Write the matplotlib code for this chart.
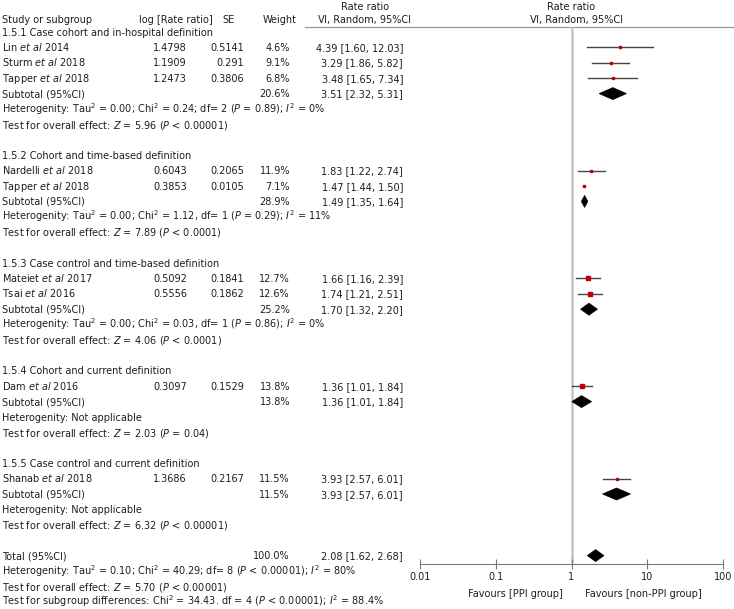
import numpy as np
import matplotlib
matplotlib.use("Agg")
import matplotlib.pyplot as plt
from matplotlib.patches import Polygon

# study level data
studies = [r"Lin $\mathit{et\ al}$ 2014", r"Sturm $\mathit{et\ al}$ 2018", r"Tapper $\mathit{et\ al}$ 2018",
           r"Nardelli $\mathit{et\ al}$ 2018", r"Tapper $\mathit{et\ al}$ 2018",
           r"Mateiet $\mathit{et\ al}$ 2017", r"Tsai $\mathit{et\ al}$ 2016",
           r"Dam $\mathit{et\ al}$ 2016", r"Shanab $\mathit{et\ al}$ 2018"]
group = [0, 0, 0, 1, 1, 2, 2, 3, 4]
log_rr = ["1.4798", "1.1909", "1.2473", "0.6043", "0.3853", "0.5092", "0.5556", "0.3097", "1.3686"]
se = ["0.5141", "0.291", "0.3806", "0.2065", "0.0105", "0.1841", "0.1862", "0.1529", "0.2167"]
weight = [4.6, 9.1, 6.8, 11.9, 7.1, 12.7, 12.6, 13.8, 11.5]
rr = [4.39, 3.29, 3.48, 1.83, 1.47, 1.66, 1.74, 1.36, 3.93]
lo = [1.60, 1.86, 1.65, 1.22, 1.44, 1.16, 1.21, 1.01, 2.57]
hi = [12.03, 5.82, 7.34, 2.74, 1.50, 2.39, 2.51, 1.84, 6.01]

# subgroup data
sub_names = ["1.5.1 Case cohort and in-hospital definition", "1.5.2 Cohort and time-based definition",
             "1.5.3 Case control and time-based definition", "1.5.4 Cohort and current definition",
             "1.5.5 Case control and current definition"]
sub_weight = [20.6, 28.9, 25.2, 13.8, 11.5]
sub_rr = [3.51, 1.49, 1.70, 1.36, 3.93]
sub_lo = [2.32, 1.35, 1.32, 1.01, 2.57]
sub_hi = [5.31, 1.64, 2.20, 1.84, 6.01]
sub_het = [r"Heterogenity: Tau$^2$ = 0.00; Chi$^2$ = 0.24; df= 2 ($\mathit{P}$ = 0.89); $\mathit{I}^2$ = 0%",
           r"Heterogenity: Tau$^2$ = 0.00; Chi$^2$ = 1.12, df= 1 ($\mathit{P}$ = 0.29); $\mathit{I}^2$ = 11%",
           r"Heterogenity: Tau$^2$ = 0.00; Chi$^2$ = 0.03, df= 1 ($\mathit{P}$ = 0.86); $\mathit{I}^2$ = 0%",
           "Heterogenity: Not applicable",
           "Heterogenity: Not applicable"]
sub_test = [r"Test for overall effect: $\mathit{Z}$ = 5.96 ($\mathit{P}$ < 0.00001)",
            r"Test for overall effect: $\mathit{Z}$ = 7.89 ($\mathit{P}$ < 0.0001)",
            r"Test for overall effect: $\mathit{Z}$ = 4.06 ($\mathit{P}$ < 0.0001)",
            r"Test for overall effect: $\mathit{Z}$ = 2.03 ($\mathit{P}$ = 0.04)",
            r"Test for overall effect: $\mathit{Z}$ = 6.32 ($\mathit{P}$ < 0.00001)"]

# overall
tot_weight = 100.0
tot_rr, tot_lo, tot_hi = 2.08, 1.62, 2.68
tot_lines = [r"Heterogenity: Tau$^2$ = 0.10; Chi$^2$ = 40.29; df= 8 ($\mathit{P}$ < 0.00001); $\mathit{I}^2$ = 80%",
             r"Test for overall effect: $\mathit{Z}$ = 5.70 ($\mathit{P}$ < 0.00001)",
             r"Test for subgroup differences: Chi$^2$ = 34.43. df = 4 ($\mathit{P}$ < 0.00001); $\mathit{I}^2$ = 88.4%"]

ticks = [0.01, 0.1, 1, 10, 100]
tick_labels = ["0.01", "0.1", "1", "10", "100"]

W, H = 734, 609
FS = 7.0
TC = "#1e1e1e"

fig = plt.figure(figsize=(W / 100, H / 100), dpi=100)
ax = fig.add_axes([0, 0, 1, 1])
ax.set_xlim(0, W)
ax.set_ylim(H, 0)
ax.axis("off")

# forest axes (y in pixel rows as well)
X0, X1, YT, YB = 420, 723, 27, 564
fx = fig.add_axes([X0 / W, (H - YB) / H, (X1 - X0) / W, (YB - YT) / H])
fx.set_xscale("log")
fx.set_xlim(0.01, 100)
fx.set_ylim(YB, YT)
fx.patch.set_alpha(0)
for s in ["left", "right", "top"]:
    fx.spines[s].set_visible(False)
fx.spines["bottom"].set_color("#7a7a7a")
fx.spines["bottom"].set_linewidth(0.8)
fx.set_yticks([])
fx.set_xticks(ticks)
fx.set_xticklabels(tick_labels)
fx.minorticks_off()
fx.tick_params(axis="x", direction="inout", length=7, width=0.8, color="#7a7a7a",
               labelsize=FS, labelcolor=TC, pad=2)
fx.axvline(1, color="#c4c4c4", lw=1.8, zorder=0)


def row_y(i):
    return 32 + i * 15.4


def txt(x, y, s, ha="left"):
    ax.text(x, y + 3.6, s, ha=ha, va="baseline", fontsize=FS, color=TC)


def diamond(est, l, h, y):
    pts = [(l, y), (est, y - 6), (h, y), (est, y + 6)]
    fx.add_patch(Polygon(pts, closed=True, facecolor="black", edgecolor="black", lw=0.5))


# headers
ax.text(365, 6 + 3.6, "Rate ratio", ha="center", va="baseline", fontsize=FS, color=TC)
ax.text(571, 6 + 3.6, "Rate ratio", ha="center", va="baseline", fontsize=FS, color=TC)
txt(2, 19, "Study or subgroup")
txt(213, 19, "log [Rate ratio]", ha="right")
txt(235, 19, "SE", ha="right")
txt(297, 19, "Weight", ha="right")
ax.text(365, 19 + 3.6, "Ⅵ, Random, 95%CI", ha="center", va="baseline", fontsize=FS, color=TC)
ax.text(576, 19 + 3.6, "Ⅵ, Random, 95%CI", ha="center", va="baseline", fontsize=FS, color=TC)
ax.plot([305, W], [27, 27], color="#9a9a9a", lw=0.9)

r = 0
for g in range(len(sub_names)):
    txt(2, row_y(r), sub_names[g])
    r += 1
    for k in range(len(studies)):
        if group[k] != g:
            continue
        y = row_y(r)
        txt(2, y, studies[k])
        txt(187, y, log_rr[k], ha="right")
        txt(244, y, se[k], ha="right")
        txt(290, y, f"{weight[k]:.1f}%", ha="right")
        txt(403, y, f"{rr[k]:.2f} [{lo[k]:.2f}, {hi[k]:.2f}]", ha="right")
        fx.plot([lo[k], hi[k]], [y, y], color="#454545", lw=1.0, zorder=2)
        fx.plot(rr[k], y, marker="s", ms=1.2 + 0.08 * weight[k], color="#c00000", mec="#c00000", zorder=3)
        r += 1
    y = row_y(r)
    txt(2, y, "Subtotal (95%CI)")
    txt(290, y, f"{sub_weight[g]:.1f}%", ha="right")
    txt(403, y, f"{sub_rr[g]:.2f} [{sub_lo[g]:.2f}, {sub_hi[g]:.2f}]", ha="right")
    diamond(sub_rr[g], sub_lo[g], sub_hi[g], y)
    r += 1
    txt(2, row_y(r), sub_het[g])
    r += 1
    txt(2, row_y(r), sub_test[g])
    r += 2

y = row_y(r)
txt(2, y, "Total (95%CI)")
txt(290, y, f"{tot_weight:.1f}%", ha="right")
txt(403, y, f"{tot_rr:.2f} [{tot_lo:.2f}, {tot_hi:.2f}]", ha="right")
diamond(tot_rr, tot_lo, tot_hi, y)
for line in tot_lines:
    r += 1
    txt(2, row_y(r), line)

txt(563, 593, "Favours [PPI group]", ha="right")
txt(585, 593, "Favours [non-PPI group]")

fig.savefig("out.png", dpi=100)
